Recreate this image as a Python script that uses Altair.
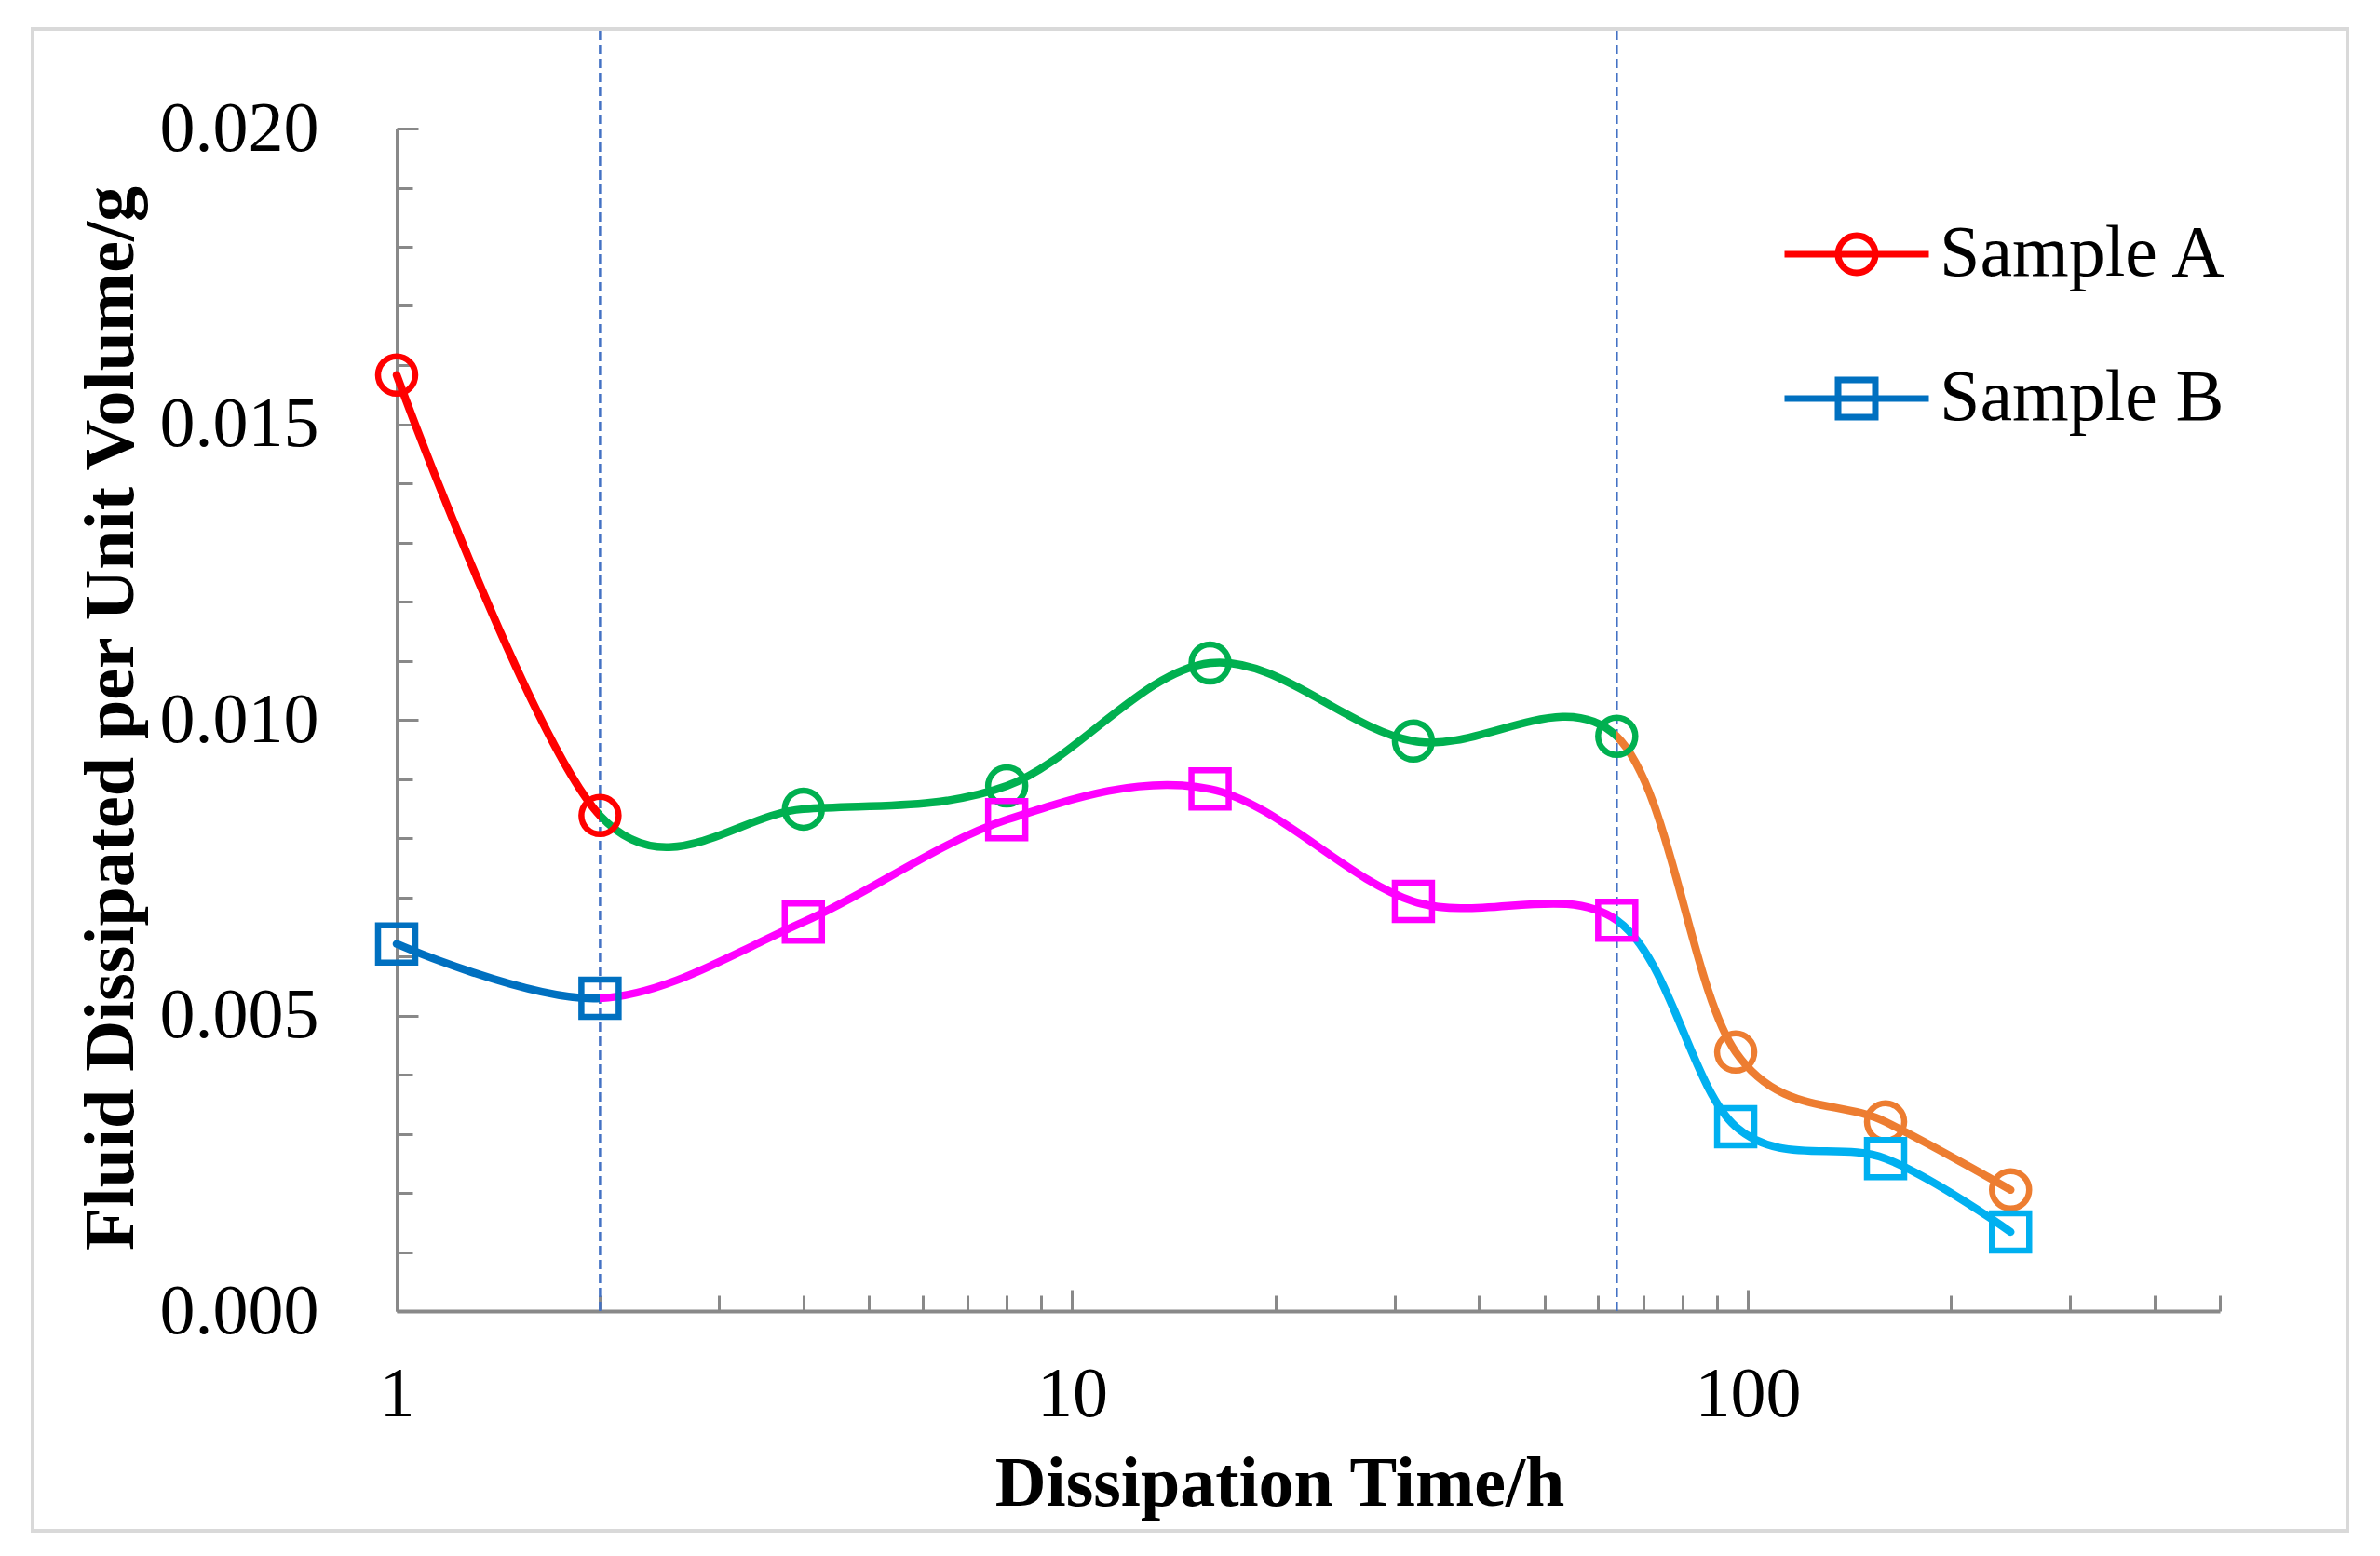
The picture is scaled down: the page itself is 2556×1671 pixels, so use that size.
import math

import altair as alt
import pandas as pd


# Data
TIME_H = [1, 2, 4, 8, 16, 32, 64, 96, 160, 245]
SAMPLE_A = [0.01583, 0.00838, 0.00849, 0.00888, 0.01096, 0.00964, 0.00972, 0.00438, 0.00320, 0.00205]
SAMPLE_B = [0.00621, 0.00529, 0.00658, 0.00831, 0.00883, 0.00693, 0.00661, 0.00312, 0.00258, 0.00134]
SERIES_NAMES = ["Sample A", "Sample B"]
STAGE_BREAKS = [2, 64]  # dashed boundaries between the three stages (h)

# Axis ticks
Y_LABELS = [0, 0.005, 0.010, 0.015, 0.020]
Y_MINOR = [round(i * 0.001, 3) for i in range(21)]
X_LABELS = [1, 10, 100]
X_MINOR = [1, 2, 3, 4, 5, 6, 7, 8, 9, 10, 20, 30, 40, 50, 60, 70, 80, 90,
           100, 200, 300, 400, 500]

# Styling
STAGE_COLORS_A = ["#ff0000", "#00b050", "#ed7d31"]
STAGE_COLORS_B = ["#0070c0", "#ff00ff", "#00b0f0"]
LEGEND_COLORS = ["#ff0000", "#0070c0"]
AXIS_GRAY = "#898989"
FONT = "Liberation Serif"
W, H = 1958, 1270
LINE_WIDTH = 8.5
MARKER_WIDTH = 6.5

# legend glyphs: line with hollow marker, in unit coordinates
LEGEND_SHAPES = [
    "M-1,0H1M0.258,0A0.258,0.258,0,1,1,-0.258,0A0.258,0.258,0,1,1,0.258,0Z",
    "M-1,0H1M-0.258,-0.258H0.258V0.258H-0.258Z",
]


def stage_of(t):
    for i, b in enumerate(STAGE_BREAKS):
        if t <= b:
            return i
    return len(STAGE_BREAKS)


def stage_gradient(colors):
    """Hard-stop horizontal gradient so one smooth line changes colour per stage."""
    span = math.log(TIME_H[-1] / TIME_H[0])
    edges = [0] + [math.log(b / TIME_H[0]) / span for b in STAGE_BREAKS] + [1]
    stops = []
    for i, c in enumerate(colors):
        stops.append(alt.GradientStop(color=c, offset=edges[i]))
        stops.append(alt.GradientStop(color=c, offset=edges[i + 1]))
    return alt.LinearGradient(gradient="linear", stops=stops, x1=0, x2=1, y1=0, y2=0)


rows = []
for name, vals, cols, marker in [
    ("Sample A", SAMPLE_A, STAGE_COLORS_A, "circle"),
    ("Sample B", SAMPLE_B, STAGE_COLORS_B, "square"),
]:
    for t, v in zip(TIME_H, vals):
        rows.append({"t": t, "v": v, "sample": name, "marker": marker,
                     "color": cols[stage_of(t)]})
df = pd.DataFrame(rows)

x_scale = alt.Scale(type="log", domain=[1, 500], nice=False)
y_scale = alt.Scale(domain=[0, 0.02], nice=False)

# frame around the whole chart area
frame = alt.Chart(pd.DataFrame({"k": [0]})).mark_rect(
    fillOpacity=0, stroke="#d9d9d9", strokeWidth=4
).encode(
    x=alt.value(-391), x2=alt.value(2095), y=alt.value(-107), y2=alt.value(1506)
)

# dashed stage boundaries
rules = alt.Chart(pd.DataFrame({"t": STAGE_BREAKS})).mark_rule(
    color="#4472c4", strokeDash=[10, 5], strokeWidth=2.5
).encode(
    x=alt.X("t:Q", scale=x_scale, axis=None),
    y=alt.value(H),
    y2=alt.value(-107),
)

main_x = alt.X(
    "t:Q", scale=x_scale,
    axis=alt.Axis(
        values=X_LABELS, format="d", ticks=False, tickSize=0, grid=False,
        labelFlush=False, labelPadding=89, labelBaseline="middle",
        labelFont=FONT, labelFontSize=76,
        labelColor="black", domainColor=AXIS_GRAY, domainWidth=4,
        title="Dissipation Time/h", titleFont=FONT, titleFontSize=76,
        titleFontWeight="bold", titleColor="black", titleX=948, titleY=185,
        titleBaseline="middle",
    ),
)
main_y = alt.Y(
    "v:Q", scale=y_scale,
    axis=alt.Axis(
        values=Y_LABELS, format=".3f", ticks=False, tickSize=0, grid=False,
        labelPadding=84, labelFont=FONT, labelFontSize=76, labelColor="black",
        domainColor=AXIS_GRAY, domainWidth=3,
        title="Fluid Dissipated per Unit Volume/g", titleFont=FONT,
        titleFontSize=76, titleFontWeight="bold", titleColor="black",
        titleX=-307, titleY=H / 2 - 2, titleBaseline="middle", titleAngle=270,
    ),
)


def smooth_line(name, colors):
    return alt.Chart(df).transform_filter(
        alt.datum.sample == name
    ).mark_line(
        stroke=stage_gradient(colors), strokeWidth=LINE_WIDTH, interpolate="cardinal",
        strokeCap="round",
    ).encode(x=main_x, y=main_y)


line_a = smooth_line("Sample A", STAGE_COLORS_A)
line_b = smooth_line("Sample B", STAGE_COLORS_B).encode(
    x=alt.X("t:Q", scale=x_scale, axis=None),
    y=alt.Y("v:Q", scale=y_scale, axis=None),
)

# inward pointing ticks: axes placed on the opposite side and shifted back across the plot
tick_x = alt.X(
    "t:Q", scale=x_scale,
    axis=alt.Axis(
        orient="top", offset=-H, values=X_MINOR, labels=False, domain=False,
        grid=False, title=None, tickColor=AXIS_GRAY, tickWidth=3,
        tickSize={"condition": {"test": "datum.value == 1 || datum.value == 10 || datum.value == 100",
                                "value": 23}, "value": 17},
    ),
)
tick_y = alt.Y(
    "v:Q", scale=y_scale,
    axis=alt.Axis(
        orient="right", offset=-W, values=Y_MINOR, labels=False, domain=False,
        grid=False, title=None, tickColor=AXIS_GRAY, tickWidth=3,
        tickSize={"condition": {"test": "round(datum.value * 1000) % 5 == 0", "value": 23},
                  "value": 17},
    ),
)

points_a = alt.Chart(df).transform_filter(
    alt.datum.sample == "Sample A"
).mark_point(shape="circle", filled=False, size=1600, strokeWidth=MARKER_WIDTH,
             opacity=1).encode(
    x=tick_x, y=tick_y, color=alt.Color("color:N", scale=None)
)
points_b = alt.Chart(df).transform_filter(
    alt.datum.sample == "Sample B"
).mark_point(shape="square", filled=False, size=1600, strokeWidth=MARKER_WIDTH,
             opacity=1).encode(
    x=alt.X("t:Q", scale=x_scale, axis=None),
    y=alt.Y("v:Q", scale=y_scale, axis=None),
    color=alt.Color("color:N", scale=None),
)

legend_spec = alt.Legend(
    title=None, orient="none", legendX=1487, legendY=54, padding=0,
    symbolSize=24025, symbolStrokeWidth=7, symbolOpacity=1,
    symbolFillColor="transparent", labelFont=FONT, labelFontSize=78,
    labelColor="black", labelOffset=8, labelLimit=0, rowPadding=35,
)
legend_layer = alt.Chart(pd.DataFrame({"sample": SERIES_NAMES})).mark_point(
    opacity=0, filled=False
).encode(
    stroke=alt.Stroke("sample:N", scale=alt.Scale(domain=SERIES_NAMES, range=LEGEND_COLORS),
                      legend=legend_spec),
    shape=alt.Shape("sample:N", scale=alt.Scale(domain=SERIES_NAMES, range=LEGEND_SHAPES),
                    legend=legend_spec),
)

chart = alt.layer(
    frame, rules, line_a, line_b, points_a, points_b, legend_layer
).resolve_axis(
    x="independent", y="independent"
).properties(
    width=W, height=H,
    padding={"left": 25, "top": 21, "right": 8, "bottom": 8},
    background="white",
).configure_view(strokeWidth=0)

chart.save("out.html", embed_options={"renderer": "svg", "actions": False})
